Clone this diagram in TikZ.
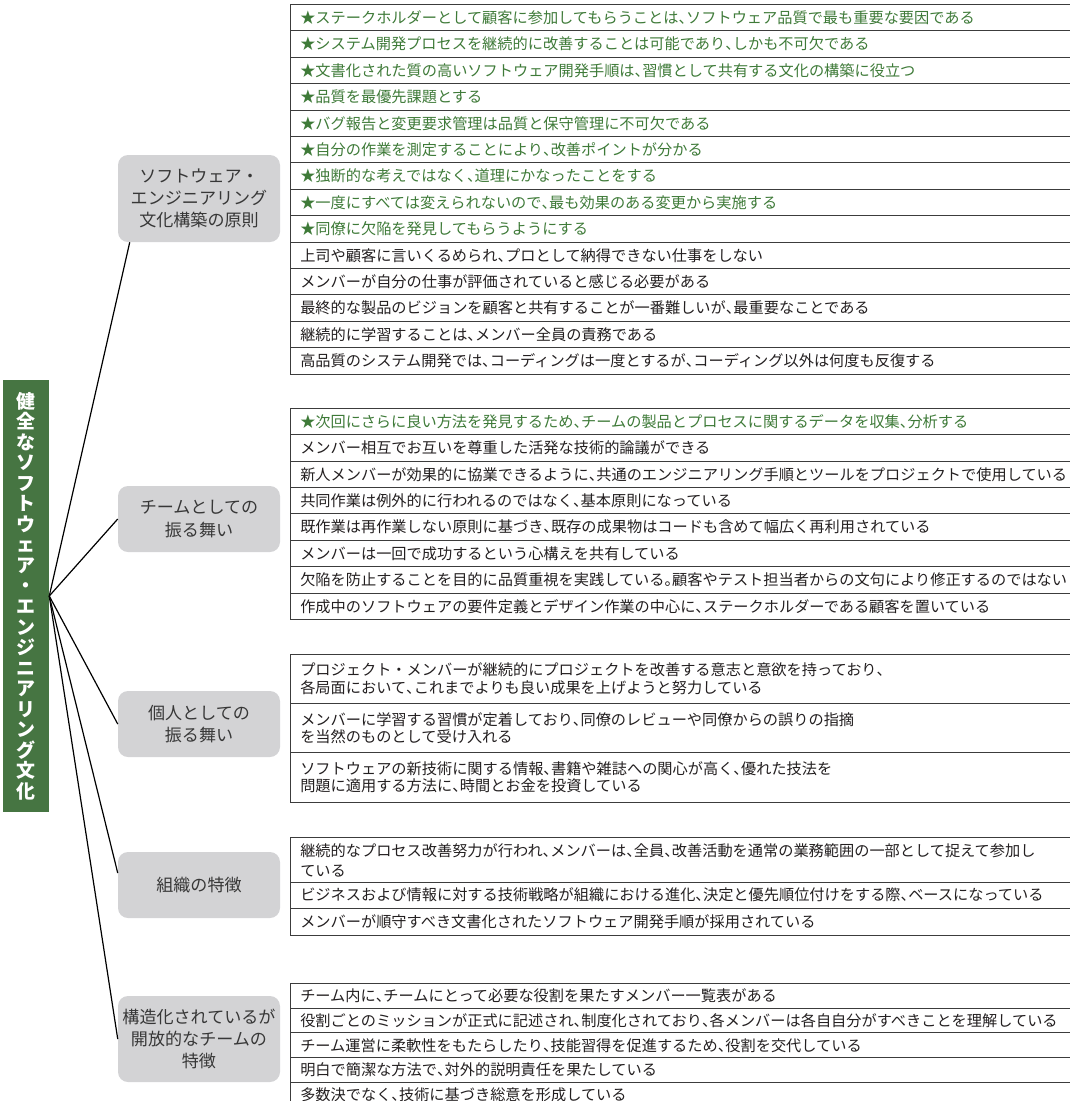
\documentclass[tikz,border=0pt]{standalone}
\usepackage{fontspec}
\setmainfont{Noto Sans CJK JP}
\definecolor{barGreen}{RGB}{70,117,66}
\definecolor{starGreen}{RGB}{62,122,56}
\definecolor{boxGrey}{RGB}{211,211,213}
\definecolor{ink}{RGB}{35,31,32}
\definecolor{boxInk}{RGB}{55,55,55}
\definecolor{ruleGrey}{RGB}{60,60,60}
% half-width Japanese punctuation
{\catcode`、=\active \gdef、{\makebox[0.5em][l]{\char"3001}}}
{\catcode`。=\active \gdef。{\makebox[0.5em][l]{\char"3002}}}
\catcode`、=\active
\catcode`。=\active
\tikzset{
  rowtext/.style={anchor=west, inner sep=0pt, font=\fontsize{11.4}{13}\selectfont, text=ink},
  starrow/.style={rowtext, text=starGreen},
  tabrule/.style={draw=ruleGrey, line width=0.75pt},
  catbox/.style={fill=boxGrey, rounded corners=7.5pt, minimum width=121.5pt, align=center,
    text=boxInk, font=\fontsize{12.8}{16.6}\selectfont, inner sep=0pt},
  link/.style={draw=black, line width=0.9pt},
}
\begin{document}
\begin{tikzpicture}[x=0.75pt, y=-0.75pt]
\useasboundingbox (0,0) rectangle (1080,1101);

% title bar
\node[fill=barGreen, minimum width=34.5pt, minimum height=324pt, inner sep=0pt,
  text=white, align=center, font=\fontsize{14.2}{15.4}\selectfont\bfseries] (bar) at (26,596)
  {健\\全\\な\\ソ\\フ\\ト\\ウ\\ェ\\ア\\・\\エ\\ン\\ジ\\ニ\\ア\\リ\\ン\\グ\\文\\化};
\coordinate (hub) at (bar.east);

% category boxes
\node[catbox, minimum height=65.25pt] (b1) at (199,198.5) {ソフトウェア・\\エンジニアリング\\文化構築の原則};
\node[catbox, minimum height=49.5pt] (b2) at (199,519) {チームとしての\\振る舞い};
\node[catbox, minimum height=49.5pt] (b3) at (199,724) {個人としての\\振る舞い};
\node[catbox, minimum height=49.5pt] (b4) at (199,885) {組織の特徴};
\node[catbox, minimum height=64.5pt] (b5) at (199,1039) {構造化されているが\\開放的なチームの\\特徴};

% connectors
\draw[link] (hub) -- ([xshift=9pt]b1.south west);
\draw[link] (hub) -- (b2.west);
\draw[link] (hub) -- (b3.west);
\draw[link] (hub) -- ([yshift=9pt]b4.west);
\draw[link] (hub) -- (b5.west);

% table: principles
\draw[tabrule] (290,4.5) -- (1070,4.5);
\draw[tabrule] (290,4.5) -- (290,374.1);
\foreach \t [count=\i] in {
  ★ステークホルダーとして顧客に参加してもらうことは、ソフトウェア品質で最も重要な要因である,
  ★システム開発プロセスを継続的に改善することは可能であり、しかも不可欠である,
  ★文書化された質の高いソフトウェア開発手順は、習慣として共有する文化の構築に役立つ,
  ★品質を最優先課題とする,
  ★バグ報告と変更要求管理は品質と保守管理に不可欠である,
  ★自分の作業を測定することにより、改善ポイントが分かる,
  ★独断的な考えではなく、道理にかなったことをする,
  ★一度にすべては変えられないので、最も効果のある変更から実施する,
  ★同僚に欠陥を発見してもらうようにする}{
  \node[starrow] (p\i) at (300,{4.5+(\i-0.5)*26.4}) {\t};
  \draw[tabrule] (290,{4.5+\i*26.4}) -- (1070,{4.5+\i*26.4});
}
\foreach \t [count=\i from 10] in {
  上司や顧客に言いくるめられ、プロとして納得できない仕事をしない,
  メンバーが自分の仕事が評価されていると感じる必要がある,
  最終的な製品のビジョンを顧客と共有することが一番難しいが、最重要なことである,
  継続的に学習することは、メンバー全員の責務である,
  高品質のシステム開発では、コーディングは一度とするが、コーディング以外は何度も反復する}{
  \node[rowtext] (p\i) at (300,{4.5+(\i-0.5)*26.4}) {\t};
  \draw[tabrule] (290,{4.5+\i*26.4}) -- (1070,{4.5+\i*26.4});
}

% table: team behaviour
\draw[tabrule] (290,408.3) -- (1070,408.3);
\draw[tabrule] (290,408.3) -- (290,619.5);
\node[starrow] (t1) at (300,421.5) {★次回にさらに良い方法を発見するため、チームの製品とプロセスに関するデータを収集、分析する};
\draw[tabrule] (290,434.7) -- (1070,434.7);
\foreach \t [count=\i from 2] in {
  メンバー相互でお互いを尊重した活発な技術的論議ができる,
  新人メンバーが効果的に協業できるように、共通のエンジニアリング手順とツールをプロジェクトで使用している,
  共同作業は例外的に行われるのではなく、基本原則になっている,
  既作業は再作業しない原則に基づき、既存の成果物はコードも含めて幅広く再利用されている,
  メンバーは一回で成功するという心構えを共有している,
  欠陥を防止することを目的に品質重視を実践している。顧客やテスト担当者からの文句により修正するのではない,
  作成中のソフトウェアの要件定義とデザイン作業の中心に、ステークホルダーである顧客を置いている}{
  \node[rowtext] (t\i) at (300,{408.3+(\i-0.5)*26.4}) {\t};
  \draw[tabrule] (290,{408.3+\i*26.4}) -- (1070,{408.3+\i*26.4});
}

% table: individual behaviour
\draw[tabrule] (290,654) -- (1070,654);
\draw[tabrule] (290,654) -- (290,802.2);
\foreach \t [count=\i] in {
  {プロジェクト・メンバーが継続的にプロジェクトを改善する意志と意欲を持っており、\\各局面において、これまでよりも良い成果を上げようと努力している},
  {メンバーに学習する習慣が定着しており、同僚のレビューや同僚からの誤りの指摘\\を当然のものとして受け入れる},
  {ソフトウェアの新技術に関する情報、書籍や雑誌への関心が高く、優れた技法を\\問題に適用する方法に、時間とお金を投資している}}{
  \node[rowtext, align=left] (k\i) at (300,{654+(\i-0.5)*49.4}) {\t};
  \draw[tabrule] (290,{654+\i*49.4}) -- (1070,{654+\i*49.4});
}

% table: organisation
\draw[tabrule] (290,837) -- (1070,837);
\draw[tabrule] (290,837) -- (290,935);
\node[rowtext, align=left, font=\fontsize{11.4}{15}\selectfont] (o1) at (300,860.5)
  {継続的なプロセス改善努力が行われ、メンバーは、全員、改善活動を通常の業務範囲の一部として捉えて参加し\\ている};
\draw[tabrule] (290,882) -- (1070,882);
\node[rowtext] (o2) at (300,895.2) {ビジネスおよび情報に対する技術戦略が組織における進化、決定と優先順位付けをする際、ベースになっている};
\draw[tabrule] (290,908.5) -- (1070,908.5);
\node[rowtext] (o3) at (300,921.7) {メンバーが順守すべき文書化されたソフトウェア開発手順が採用されている};
\draw[tabrule] (290,935) -- (1070,935);

% table: structured open team
\draw[tabrule] (290,983.3) -- (1070,983.3);
\draw[tabrule] (290,983.3) -- (290,1110);
\foreach \t [count=\i] in {
  チーム内に、チームにとって必要な役割を果たすメンバー一覧表がある,
  役割ごとのミッションが正式に記述され、制度化されており、各メンバーは各自自分がすべきことを理解している,
  チーム運営に柔軟性をもたらしたり、技能習得を促進するため、役割を交代している,
  明白で簡潔な方法で、対外的説明責任を果たしている,
  多数決でなく、技術に基づき総意を形成している}{
  \node[rowtext] (s\i) at (300,{983.3+(\i-0.5)*24.8}) {\t};
  \draw[tabrule] (290,{983.3+\i*24.8}) -- (1070,{983.3+\i*24.8});
}
\end{tikzpicture}
\end{document}
